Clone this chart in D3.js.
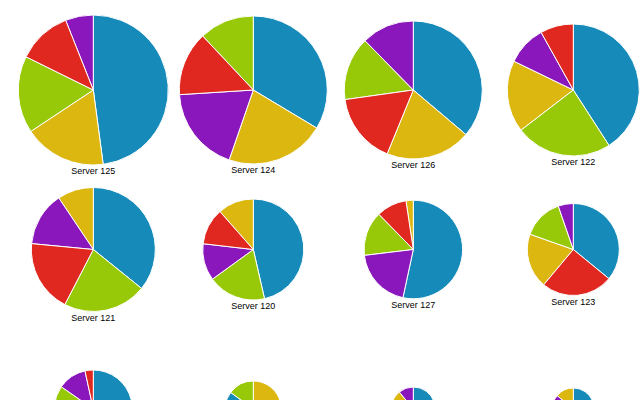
<!DOCTYPE html>
<html>
<head>
<meta charset="utf-8">
<script src="https://cdn.jsdelivr.net/npm/d3@7"></script>
<style>
  body { margin: 0; background: #fff; }
  .label { font-family: "Liberation Sans", Arial, sans-serif; font-size: 9px; fill: #000; }
</style>
</head>
<body>
<script>
// servers in display order (largest total first)
var servers = ["Server 125", "Server 124", "Server 126", "Server 122",
               "Server 121", "Server 120", "Server 127", "Server 123",
               "Server 119", "Server 128", "Server 118", "Server 129"];

var categories = ["cat1", "cat2", "cat3", "cat4", "cat5"];
var colors = ["#168bba", "#dbb710", "#98c908", "#8917bb", "#e02820"];

// one value per category, same order as categories
var cat1 = [2694, 1840, 1723, 1781, 1376, 1184, 1297, 760, 639, 118, 194, 168];
var cat2 = [1001, 1188,  952,  767,  361,  293,   58, 408, 380, 259,  58,  62];
var cat3 = [ 934,  657,  709, 1032,  838,  474,  355, 303, 269, 117,  97,  67];
var cat4 = [ 338, 1024,  587,  423,  542,  301,  479, 112, 181, 157,  53,  64];
var cat5 = [ 658,  767,  790,  353,  727,  298,  241, 533,  52, 133,  82,  80];

window.onload = function(){
  var width = 640,
      height = 400;

  var series = [cat1, cat2, cat3, cat4, cat5];

  var data = servers.map(function(name, i){
    var vals = categories.map(function(c, j){ return {cat: c, value: series[j][i]}; });
    return {name: name, values: vals, total: d3.sum(vals, function(d){ return d.value; })};
  });

  var color = d3.scaleOrdinal()
      .domain(categories)
      .range(colors);

  var radius = d3.scaleSqrt()
      .domain([0, d3.max(data, function(d){ return d.total; })])
      .range([0, 75]);

  var pie = d3.pie()
      .value(function(d){ return d.value; });

  var arc = d3.arc()
      .innerRadius(0);

  var svg = d3.select("body").append("svg")
      .attr("width", width)
      .attr("height", height);

  var cols = 4;

  var g = svg.selectAll("g.server")
      .data(data)
      .enter()
      .append("g")
      .attr("class", "server")
      .attr("transform", function(d, i){
        var x = 93.3 + (i % cols) * 160;
        var y = 90 + Math.floor(i / cols) * 159.5;
        return "translate(" + x + "," + y + ")";
      });

  g.selectAll("path")
      .data(function(d){
        var r = radius(d.total);
        return pie(d.values).map(function(s){ s.r = r; return s; });
      })
      .enter()
      .append("path")
      .attr("d", function(d){ return arc.outerRadius(d.r)(d); })
      .attr("fill", function(d){ return color(d.data.cat); })
      .attr("stroke", "#fff")
      .attr("stroke-width", 1);

  g.append("text")
      .attr("class", "label")
      .attr("text-anchor", "middle")
      .attr("y", function(d){ return radius(d.total) + 9; })
      .text(function(d){ return d.name; });
}
</script>
</body>
</html>
